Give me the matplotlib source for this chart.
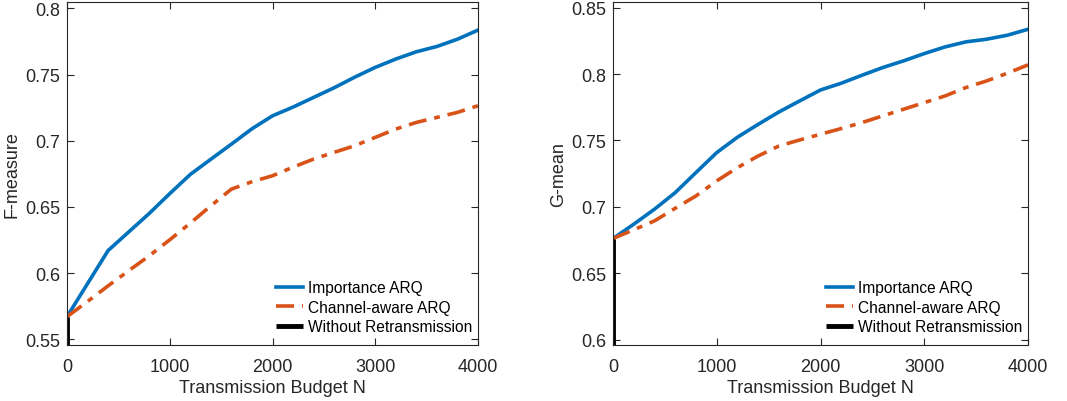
import numpy as np
import matplotlib
matplotlib.use("Agg")
import matplotlib.pyplot as plt

plt.rcParams['font.family'] = ['Liberation Sans', 'DejaVu Sans']

# Transmission budget samples
budget = [0, 200, 400, 600, 800, 1000, 1200, 1400, 1600, 1800, 2000, 2200,
          2400, 2600, 2800, 3000, 3200, 3400, 3600, 3800, 4000]

# F-measure
f_importance = [0.567, 0.592, 0.617, 0.631, 0.645, 0.660, 0.6745, 0.686, 0.6974,
                0.709, 0.7188, 0.7254, 0.7327, 0.740, 0.748, 0.7554, 0.7617, 0.7672,
                0.7712, 0.7767, 0.7836]
f_channel = [0.567, 0.5785, 0.5903, 0.6017, 0.613, 0.6251, 0.6377, 0.6508, 0.6634,
             0.669, 0.6735, 0.680, 0.6861, 0.6912, 0.6962, 0.7025, 0.7088, 0.7138,
             0.7176, 0.7214, 0.7264]

# G-mean
g_importance = [0.6762, 0.687, 0.6983, 0.7108, 0.7259, 0.7409, 0.7525, 0.7622, 0.7715,
                0.7798, 0.788, 0.7931, 0.7991, 0.8049, 0.8099, 0.8154, 0.8204, 0.8242,
                0.8262, 0.8292, 0.8337]
g_channel = [0.6762, 0.6828, 0.6895, 0.699, 0.7083, 0.7196, 0.7296, 0.7384, 0.7459,
             0.7504, 0.7547, 0.759, 0.7635, 0.7685, 0.7735, 0.7785, 0.7835, 0.7898,
             0.7948, 0.8006, 0.8069]

# Without retransmission: single value at N = 0
f_without = 0.567
g_without = 0.6762

blue = '#0072BD'
orange = '#D95319'
gray = '#262626'

fig = plt.figure(figsize=(10.67, 4.02), dpi=100)
ax1 = fig.add_axes([0.0628, 0.139, 0.3852, 0.8535])
ax2 = fig.add_axes([0.5745, 0.139, 0.389, 0.8535])


def draw(ax, imp, chan, base, ylim, yticks, ylabel):
    ax.plot(budget, imp, color=blue, lw=2.6, label='Importance ARQ')
    ax.plot(budget, chan, color=orange, lw=2.6, linestyle=(0, (5, 2.2, 1.6, 2.2)),
            label='Channel-aware ARQ')
    ax.plot([0, 0], [0, base], color='black', lw=3.5, label='Without Retransmission',
            solid_capstyle='butt')
    ax.set_xlim(0, 4000)
    ax.set_ylim(*ylim)
    ax.set_xticks([0, 1000, 2000, 3000, 4000])
    ax.set_yticks(yticks)
    ax.set_yticklabels([('%g' % t) for t in yticks])
    ax.tick_params(direction='in', top=True, right=True, length=5, width=0.8,
                   labelsize=13, colors=gray)
    ax.tick_params(axis='x', pad=9)
    ax.tick_params(axis='y', pad=5)
    for s in ax.spines.values():
        s.set_color('#262626')
        s.set_linewidth(0.8)
    ax.set_xlabel('Transmission Budget N', fontsize=13, color=gray, labelpad=3)
    ax.set_ylabel(ylabel, fontsize=13, color=gray, labelpad=3)
    leg = ax.legend(loc='lower right', frameon=False, fontsize=11.2, handlelength=1.75,
                    handletextpad=0.3, labelspacing=0.3, borderaxespad=0.0,
                    borderpad=0.3, bbox_to_anchor=(0.997, 0.018))
    for t in leg.get_texts():
        t.set_color('black')


draw(ax1, f_importance, f_channel, f_without, (0.5455, 0.8048),
     [0.55, 0.6, 0.65, 0.7, 0.75, 0.8], 'F-measure')
draw(ax2, g_importance, g_channel, g_without, (0.596, 0.8542),
     [0.6, 0.65, 0.7, 0.75, 0.8, 0.85], 'G-mean')

fig.savefig('out.png', dpi=100)
